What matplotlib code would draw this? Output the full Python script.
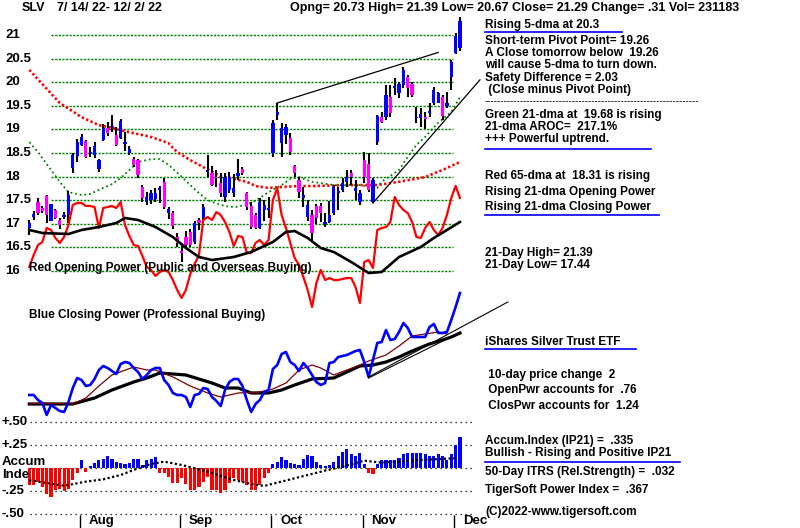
import matplotlib
matplotlib.use('Agg')
import matplotlib.pyplot as plt
import matplotlib.transforms as mtransforms
from matplotlib.lines import Line2D
import numpy as np

plt.rcParams['font.family'] = ['Liberation Sans', 'DejaVu Sans']
plt.rcParams['font.weight'] = 'bold'
plt.rcParams['font.size'] = 8.5

BLUE = '#0000FF'
MAGENTA = '#FF00FF'
RED = '#FF0000'
GREEN = '#008000'
BROWN = '#800000'

# SLV daily bars 7/14/22 - 12/2/22 (trading-day index 0..99)
opens = [16.92, 17.14, 17.47, 17.33, 17.59, 17.06, 17.29, 17.08, 17.15, 17.19,
         18.18, 18.44, 18.67, 18.75, 18.50, 18.46, 18.16, 18.78, 19.03, 19.05,
         18.88, 18.82, 18.70, 18.50, 18.37, 18.35, 17.78, 17.46, 17.50, 17.52,
         17.72, 17.88, 17.23, 17.23, 16.72, 16.42, 16.73, 16.83, 16.61, 17.08,
         17.12, 18.10, 18.07, 18.00, 17.86, 17.57, 17.72, 17.65, 18.01, 18.16,
         17.65, 17.38, 17.19, 16.91, 17.29, 17.30, 18.50, 19.30, 18.71, 18.88,
         18.82, 18.22, 17.93, 17.55, 17.14, 17.19, 17.38, 17.38, 17.00, 17.04,
         17.23, 17.66, 17.72, 17.88, 18.07, 17.69, 17.46, 18.35, 18.27, 17.46,
         18.73, 19.26, 19.26, 19.69, 19.88, 19.77, 19.94, 20.11, 19.96, 19.24,
         19.24, 19.27, 19.35, 19.56, 19.56, 19.69, 19.50, 20.11, 20.62, 20.73]
highs = [17.08, 17.28, 17.55, 17.38, 17.60, 17.43, 17.32, 17.12, 17.25, 17.69,
         18.50, 18.80, 18.90, 18.77, 18.63, 18.73, 18.38, 19.12, 19.15, 19.30,
         19.05, 19.22, 18.95, 18.65, 18.42, 18.38, 17.82, 17.68, 17.72, 17.75,
         17.80, 17.97, 17.35, 17.28, 16.80, 16.60, 16.85, 16.88, 17.05, 17.12,
         17.42, 18.46, 18.22, 18.14, 18.07, 18.07, 18.10, 18.05, 18.37, 18.20,
         17.68, 17.46, 17.22, 17.55, 17.50, 17.57, 19.20, 19.56, 19.14, 19.12,
         18.92, 18.25, 17.99, 17.78, 17.50, 17.29, 17.42, 17.44, 17.23, 17.48,
         17.82, 17.78, 17.97, 18.14, 18.14, 17.93, 17.72, 18.52, 18.50, 17.97,
         19.30, 19.37, 19.94, 19.94, 20.09, 20.00, 20.32, 20.15, 20.00, 19.47,
         19.45, 19.37, 19.55, 19.90, 19.80, 19.73, 19.80, 20.47, 21.05, 21.39]
lows = [16.76, 17.08, 17.19, 17.22, 17.02, 17.05, 17.10, 16.90, 17.10, 17.02,
        18.08, 18.30, 18.65, 18.39, 18.42, 18.40, 18.10, 18.75, 18.85, 18.95,
        18.65, 18.80, 18.55, 18.46, 18.20, 17.98, 17.46, 17.40, 17.42, 17.46,
        17.45, 17.32, 17.10, 16.90, 16.50, 16.20, 16.50, 16.50, 16.58, 16.87,
        17.08, 18.00, 17.80, 17.78, 17.57, 17.46, 17.65, 17.57, 17.93, 18.03,
        17.30, 16.90, 16.88, 16.88, 17.05, 17.12, 18.42, 19.20, 18.42, 18.70,
        18.46, 17.99, 17.55, 17.36, 17.05, 16.66, 17.00, 17.04, 16.93, 17.02,
        17.19, 17.29, 17.67, 17.78, 17.82, 17.50, 17.40, 17.86, 17.67, 17.44,
        18.67, 19.14, 19.20, 19.26, 19.73, 19.67, 19.88, 19.69, 19.69, 19.14,
        19.05, 19.00, 19.26, 19.52, 19.55, 19.20, 19.45, 19.83, 20.60, 20.67]
closes = [17.02, 17.21, 17.22, 17.28, 17.19, 17.42, 17.12, 16.98, 17.18, 17.61,
          18.46, 18.73, 18.84, 18.42, 18.52, 18.65, 18.35, 19.03, 18.92, 19.08,
          18.67, 19.18, 18.72, 18.58, 18.25, 18.03, 17.55, 17.57, 17.65, 17.66,
          17.74, 17.36, 17.31, 16.95, 16.60, 16.38, 16.56, 16.56, 17.02, 17.02,
          17.36, 18.13, 17.82, 17.97, 17.65, 17.99, 17.99, 17.76, 18.07, 18.07,
          17.36, 16.93, 16.92, 17.46, 17.40, 17.33, 19.14, 19.37, 19.03, 19.05,
          18.52, 18.07, 17.67, 17.61, 17.40, 16.80, 17.12, 17.23, 17.03, 17.19,
          17.78, 17.68, 17.86, 17.99, 17.99, 17.76, 17.65, 17.99, 17.72, 17.93,
          19.28, 19.16, 19.73, 19.35, 19.90, 19.96, 20.26, 19.88, 19.73, 19.27,
          19.33, 19.22, 19.40, 19.83, 19.77, 19.28, 19.56, 20.43, 20.98, 21.29]

# red 65-dma and green 21-dma
ma65_day = [0, 4, 7, 12, 16, 19, 23, 28, 32, 33, 34, 37, 40, 44, 50, 52, 55, 58, 62, 65, 74, 80, 85, 91, 95, 99]
ma65 = [20.26, 19.86, 19.56, 19.26, 19.09, 19.03, 18.94, 18.84, 18.71, 18.61, 18.52, 18.35, 18.20,
        18.01, 17.89, 17.80, 17.76, 17.78, 17.80, 17.80, 17.82, 17.82, 17.89, 17.99, 18.14, 18.31]
ma21_day = [0, 2, 5, 7, 9, 12, 14, 16, 19, 21, 23, 25, 28, 30, 32, 35, 37, 39, 41, 44,
            46, 48, 51, 53, 55, 58, 60, 62, 65, 70, 76, 80, 81, 85, 87, 89, 91, 94, 97, 99]
ma21 = [18.73, 18.52, 18.14, 17.89, 17.67, 17.61, 17.63, 17.72, 17.84, 17.97,
        18.14, 18.31, 18.37, 18.37, 18.25, 18.00, 17.82, 17.65, 17.50, 17.40,
        17.36, 17.36, 17.44, 17.55, 17.67, 17.82, 17.95, 17.99, 17.89, 17.82,
        17.82, 17.76, 17.89, 18.14, 18.42, 18.67, 18.84, 19.14, 19.37, 19.68]

# price trendlines
up_trend_day = [57, 94]
up_trend = [19.56, 20.63]
lo_trend_day = [79, 103.6]
lo_trend = [17.44, 20.05]

# Opening Power (red) and its 21-dma (black), chart units
op = [-17, -5, 5, 8, 22, 20, 12, 7, 13, 25, 45, 47, 47, 44, 44, 43, 22, 42, 43, 44,
      42, 48, 25, 14, 5, 4, -6, -17, -20, -26, -22, -20, -22, -30, -40, -48, -40, -24, -14, -5,
      30, 33, 30, 38, 35, 28, 18, 4, 14, 13, -3, -3, 7, 10, 5, 10, 50, 62, 35, 22,
      7, -8, -15, -27, -40, -57, -33, -20, -30, -28, -30, -30, -29, -28, -28, -37, -53, -12, -10, -18,
      20, 22, 23, 28, 53, 45, 40, 37, 28, 13, 12, 22, 28, 20, 15, 22, 35, 52, 64, 52]
opma_day = [0, 3, 9, 12, 16, 20, 22, 25, 29, 33, 36, 39, 42, 47, 51, 56, 59, 61, 64, 67,
            70, 74, 78, 81, 85, 90, 93, 96, 99]
opma = [20, 17, 16, 20, 23, 27, 32, 30, 23, 13, 2, -7, -10, -7, -2, 8, 18, 19, 12, 2,
        -2, -12, -23, -22, -7, 3, 12, 20, 28]

# Closing Power (blue), its 21-dma (brown) and slower ma (black), chart units
cp = [-15, -15, -20, -23, -35, -25, -28, -31, -32, -22, -8, 2, 0, -6, -5, 1, 10, 14, 12, 9,
      6, 16, 18, 17, 12, 8, 1, 5, 10, 12, 12, 0, -5, -13, -15, -15, -17, -27, -15, -14,
      -8, -9, -17, -21, -26, -10, -2, 1, 1, -6, -20, -32, -24, -20, -12, -10, 11, 15, 26, 28,
      18, 15, 9, 17, 12, 5, -2, -5, -3, 17, 18, 23, 24, 25, 27, 29, 30, 18, 3, 20,
      37, 38, 50, 40, 41, 48, 57, 52, 43, 43, 43, 43, 53, 56, 47, 47, 48, 60, 73, 87]
cpma_day = [0, 3, 10, 13, 16, 19, 24, 27, 29, 33, 37, 41, 44, 48, 53, 56, 59, 62, 65, 67,
            70, 73, 76, 78, 82, 85, 88, 91, 94, 96]
cpma = [-24, -23, -24, -18, -6, 5, 13, 10, 10, 3, -6, -13, -17, -13, -12, -9, -3, 10, 15, 12,
        5, 10, 15, 19, 25, 34, 44, 46, 48, 46]
cpma2_day = [0, 10, 15, 19, 24, 27, 30, 33, 36, 39, 42, 45, 48, 51, 55, 58, 61, 65, 70, 73,
             76, 79, 82, 85, 88, 92, 95, 97, 99]
cpma2 = [-24, -24, -18, -10, -2, 2, 7, 6, 5, 1, -3, -8, -8, -13, -13, -10, -5, 1, 2, 8,
         14, 15, 18, 23, 29, 36, 40, 43, 47]
cp_trend_day = [78, 110]
cp_trend = [3, 78]
cp_trend2_day = [78, 96]
cp_trend2 = [2, 41]

# Accumulation Index (IP21) and its moving average
accum = [-0.18, -0.18, -0.15, -0.20, -0.28, -0.31, -0.24, -0.22, -0.25, -0.22,
         -0.13, -0.05, 0.09, -0.04, 0.03, 0.06, 0.09, 0.10, 0.13, 0.10,
         0.07, 0.06, 0.05, 0.06, 0.10, 0.10, 0.04, 0.09, 0.10, 0.12,
         -0.05, -0.05, -0.09, -0.16, -0.16, -0.11, -0.17, -0.24, -0.24, -0.20,
         -0.15, -0.09, -0.24, -0.24, -0.27, -0.24, -0.16, -0.11, -0.13, -0.15,
         -0.18, -0.24, -0.24, -0.18, -0.11, -0.05, 0.05, 0.07, 0.12, 0.09,
         0.06, 0.05, 0.04, 0.10, 0.14, 0.13, 0.07, 0.04, 0.03, 0.04,
         0.07, 0.13, 0.18, 0.21, 0.16, 0.13, 0.17, 0.05, -0.05, -0.06,
         0.05, 0.09, 0.09, 0.09, 0.09, 0.11, 0.15, 0.17, 0.17, 0.17,
         0.17, 0.15, 0.13, 0.13, 0.15, 0.13, 0.09, 0.16, 0.25, 0.335]
accma_day = [0, 8, 13, 17, 21, 25, 28, 31, 35, 38, 41, 44, 47, 51, 54, 57, 61, 64, 68, 72,
             77, 81, 84, 90, 94, 98]
accma = [-0.13, -0.19, -0.145, -0.12, -0.073, 0.0, 0.047, 0.072, 0.036, 0.0, -0.036, -0.083,
         -0.127, -0.17, -0.192, -0.156, -0.109, -0.073, -0.025, 0.018, 0.083, 0.061, 0.072,
         0.09, 0.10, 0.11]

month_days = [12, 35, 56, 77, 98]
month_names = ['Aug', 'Sep', 'Oct', 'Nov', 'Dec']
price_levels = [16, 16.5, 17, 17.5, 18, 18.5, 19, 19.5, 20, 20.5, 21]
acc_levels = [0.5, 0.25, 0, -0.25, -0.5]
acc_labels = ['+.50', '+.25', '', '-.25', '-.50']

W, H = 800, 528
fig = plt.figure(figsize=(8, 5.28), dpi=100)
fig.patch.set_facecolor('white')

XLIM = (-6.736, 177.17)


def layer(ylim):
    a = fig.add_axes([0, 0, 1, 1])
    a.set_xlim(*XLIM)
    a.set_ylim(*ylim)
    a.patch.set_alpha(0)
    a.axis('off')
    return a


ax_p = layer((10.555, 21.7415))
ax_op = layer((-278, 250))
ax_cp = layer((-148, 380))
ax_acc = layer((-0.649, 5.09))

days = np.arange(len(closes))
o = np.array(opens)
c = np.array(closes)

# price panel
ax_p.hlines(price_levels, 5, 97.4, colors=GREEN, linewidth=1.0, linestyles=(0, (1.6, 1.0)), zorder=1)
ax_p.plot(ma65_day, ma65, color=RED, linewidth=1.9, linestyle=(0, (0.9, 0.9)), zorder=2)
ax_p.plot(ma21_day, ma21, color=GREEN, linewidth=1.3, linestyle=(0, (1, 1.6)), zorder=2)
ax_p.vlines(days, lows, highs, colors='black', linewidth=1.5, zorder=3)
body_col = np.where(c >= o, BLUE, MAGENTA)
body_h = np.maximum(np.abs(c - o), 0.03)
ax_p.bar(days, body_h, bottom=np.minimum(o, c), width=0.75, color=body_col, zorder=4)
ax_p.plot(up_trend_day, up_trend, color='black', linewidth=0.9, zorder=5)
ax_p.plot(lo_trend_day, lo_trend, color='black', linewidth=0.9, zorder=5)

ylab = mtransforms.blended_transform_factory(fig.transFigure, ax_p.transData)
for lv in price_levels:
    ax_p.text(5 / W, lv, f'{lv:g}', transform=ylab, ha='left', va='center', fontsize=9.5)

# opening power
ax_op.plot(days, op, color=RED, linewidth=1.6, zorder=3)
ax_op.plot(opma_day, opma, color='black', linewidth=1.9, zorder=3)

# closing power
ax_cp.plot(cpma2_day, cpma2, color='black', linewidth=2.3, zorder=2)
ax_cp.plot(cpma_day, cpma, color=BROWN, linewidth=0.9, zorder=3)
ax_cp.plot(days, cp, color=BLUE, linewidth=1.9, zorder=4)
ax_cp.plot(cp_trend_day, cp_trend, color='black', linewidth=0.8, zorder=5)
ax_cp.plot(cp_trend2_day, cp_trend2, color='black', linewidth=0.8, zorder=5)

# accumulation index
ax_acc.hlines(acc_levels, 0.2, 101.8, colors='black', linewidth=0.9, linestyles=(0, (1, 3)), zorder=1)
acc = np.array(accum)
ax_acc.bar(days, acc, width=0.72, color=np.where(acc >= 0, BLUE, RED), zorder=2)
ax_acc.plot(accma_day, accma, color='black', linewidth=1.6, linestyle=(0, (1, 1.1)), zorder=3)
alab = mtransforms.blended_transform_factory(fig.transFigure, ax_acc.transData)
for lv, s in zip(acc_levels, acc_labels):
    if s:
        ax_acc.text(2 / W, lv, s, transform=alab, ha='left', va='center', fontsize=9.5)
ax_acc.text(2 / W, 0.065, 'Accum', transform=alab, ha='left', va='center', fontsize=9.5)
ax_acc.text(2 / W, -0.075, 'Inde', transform=alab, ha='left', va='center', fontsize=9.5)

md = np.array(month_days) - 0.4
ax_acc.vlines(md, -0.65, -0.51, colors='black', linewidth=1.0)
for d, name in zip(md, month_names):
    ax_acc.annotate(name, (d, -0.575), xytext=(6.5, 0), textcoords='offset points',
                    ha='left', va='center', fontsize=9.5)


def ftext(x, y, s, **kw):
    fig.text(x / W, 1 - y / H, s, ha='left', va='center', **kw)


def uline(y, x0, x1):
    fig.add_artist(Line2D([x0 / W, x1 / W], [1 - y / H, 1 - y / H], color=BLUE, linewidth=1.2))


ftext(22, 8, 'SLV', fontsize=9)
ftext(57, 8, '7/ 14/ 22- 12/ 2/ 22', fontsize=9)
ftext(290, 8, 'Opng= 20.73 High= 21.39 Low= 20.67 Close= 21.29 Change= .31 Vol= 231183', fontsize=9)
ftext(29, 268, 'Red Opening Power (Public and Overseas Buying)')
ftext(29, 315, 'Blue Closing Power (Professional Buying)')

right = [
    (25, 'Rising 5-dma at 20.3'),
    (41, 'Short-term Pivot Point= 19.26'),
    (53, 'A Close tomorrow below  19.26'),
    (65, 'will cause 5-dma to turn down.'),
    (78, 'Safety Difference = 2.03'),
    (90, ' (Close minus Pivot Point)'),
    (115, 'Green 21-dma at  19.68 is rising'),
    (127, '21-dma AROC=  217.1%'),
    (139, '+++ Powerful uptrend.'),
    (176, 'Red 65-dma at  18.31 is rising'),
    (192, 'Rising 21-dma Opening Power'),
    (207, 'Rising 21-dma Closing Power'),
    (253, '21-Day High= 21.39'),
    (265, '21-Day Low= 17.44'),
    (342, 'iShares Silver Trust ETF'),
    (375, ' 10-day price change  2'),
    (390, ' OpenPwr accounts for  .76'),
    (406, ' ClosPwr accounts for  1.24'),
    (441, 'Accum.Index (IP21) =  .335'),
    (453, 'Bullish - Rising and Positive IP21'),
    (472, '50-Day ITRS (Rel.Strength) =  .032'),
    (490, 'TigerSoft Power Index =  .367'),
    (512, '(C)2022-www.tigersoft.com'),
]
for y, s in right:
    ftext(485, y, s)
ftext(485, 101, '-' * 66, fontweight='normal', fontsize=7)

uline(32, 485, 622)
uline(149, 485, 651)
uline(215, 485, 659)
uline(349, 485, 636)
uline(462, 485, 680)

fig.savefig('out.png', dpi=100, facecolor='white')
plt.close(fig)
